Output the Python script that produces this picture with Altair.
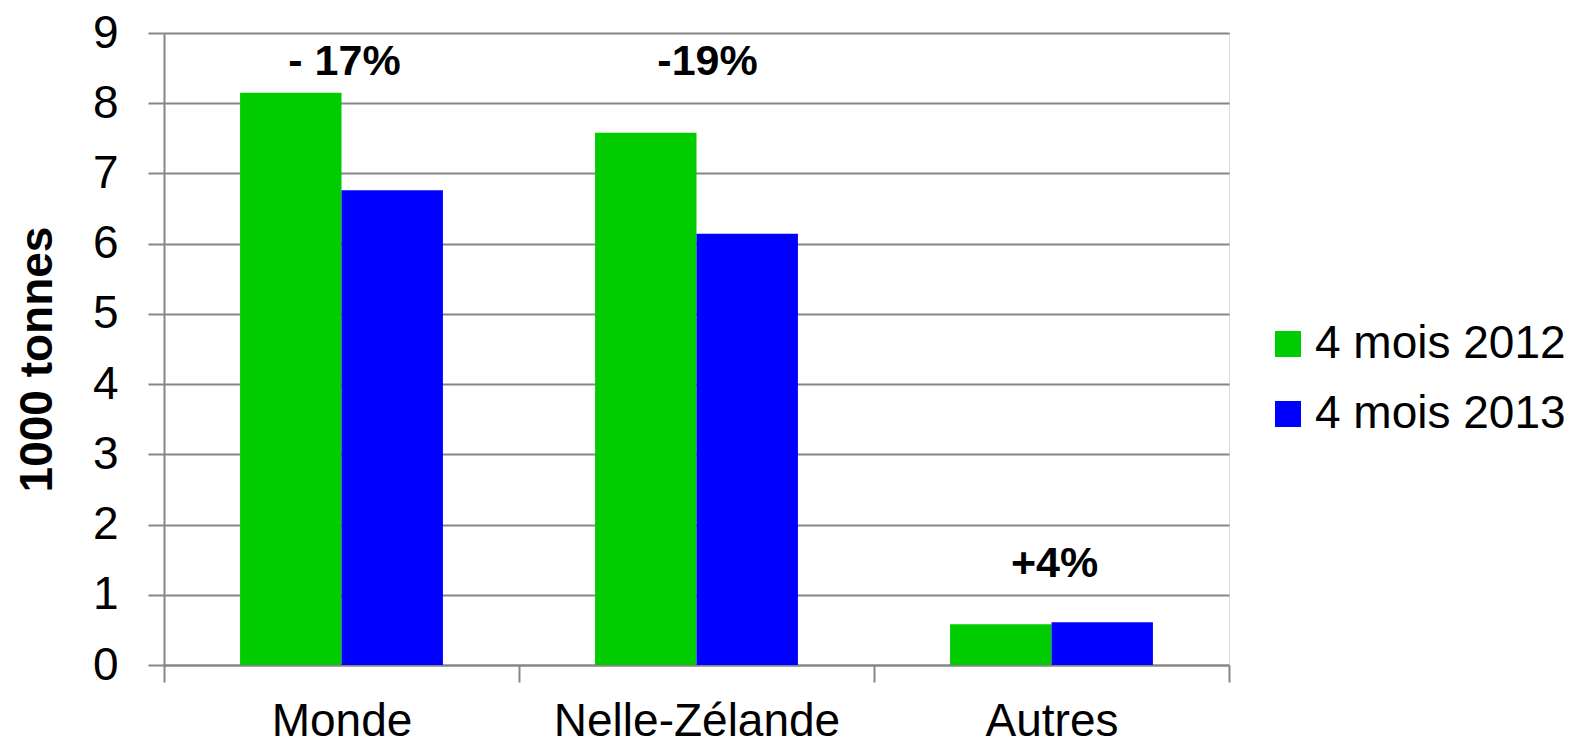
import altair as alt
import pandas as pd

categories = ["Monde", "Nelle-Zélande", "Autres"]
series = ["4 mois 2012", "4 mois 2013"]
values_2012 = [8.15, 7.58, 0.58]
values_2013 = [6.76, 6.14, 0.61]
change_labels = ["- 17%", "-19%", "+4%"]
label_level = [8.59, 8.59, 1.44]
colors = ["#00CC00", "#0000FF"]

rows = []
for c, a, b in zip(categories, values_2012, values_2013):
    rows.append({"region": c, "series": series[0], "value": a})
    rows.append({"region": c, "series": series[1], "value": b})
df = pd.DataFrame(rows)
ann = pd.DataFrame({"region": categories, "label": change_labels, "level": label_level})

FONT = "Liberation Sans"
GRAY = "#868686"

x_enc = alt.X("region:N", sort=categories, title=None,
              scale=alt.Scale(paddingInner=0, paddingOuter=0),
              axis=alt.Axis(tickBand="extent", tickSize=17, tickWidth=2, tickColor=GRAY,
                            domainColor=GRAY, domainWidth=2, labelAngle=0,
                            labelFontSize=46, labelPadding=17, labelColor="black",
                            labelFont=FONT, labelLimit=0, grid=False))

bars = alt.Chart(df).mark_bar().encode(
    x=x_enc,
    xOffset=alt.XOffset("series:N", sort=series,
                        scale=alt.Scale(paddingInner=0, paddingOuter=0.75)),
    y=alt.Y("value:Q", title="1000 tonnes",
            scale=alt.Scale(domain=[0, 9], nice=False),
            axis=alt.Axis(values=list(range(10)), format="d", tickSize=16, tickWidth=2,
                          tickColor=GRAY, domainColor=GRAY, domainWidth=2,
                          gridColor=GRAY, gridWidth=2,
                          labelFontSize=46, labelPadding=30, labelColor="black", labelFont=FONT,
                          titleFont=FONT, titleFontSize=46, titleFontWeight="bold",
                          titleColor="black", titleAngle=-90, titleX=-113, titleY=326,
                          titleBaseline="alphabetic", titleAlign="center")),
    color=alt.Color("series:N", sort=series,
                    scale=alt.Scale(domain=series, range=colors),
                    legend=alt.Legend(title=None, orient="none", legendX=1101, legendY=288,
                                      symbolType="square", symbolSize=676, symbolStrokeWidth=0,
                                      labelFontSize=46, labelFont=FONT, labelColor="black",
                                      labelOffset=4, labelLimit=0, rowPadding=24, padding=0)),
)

text_main = alt.Chart(ann).transform_filter(alt.datum.region != "Nelle-Zélande").mark_text(
    font=FONT, fontSize=43, fontWeight="bold", color="black", baseline="middle", dx=3
).encode(x=alt.X("region:N", sort=categories), y=alt.Y("level:Q"), text="label:N")

text_nz = alt.Chart(ann).transform_filter(alt.datum.region == "Nelle-Zélande").mark_text(
    font=FONT, fontSize=43, fontWeight="bold", color="black", baseline="middle", dx=11
).encode(x=alt.X("region:N", sort=categories), y=alt.Y("level:Q"), text="label:N")

chart = alt.layer(bars, text_main, text_nz).properties(
    width=1065, height=632,
    autosize=alt.AutoSizeParams(type="none"),
    padding={"left": 156, "top": 25, "right": 343, "bottom": 80},
).configure_view(stroke=None).configure(background="white")

chart.save("out.html", embed_options={"renderer": "svg", "actions": False})
